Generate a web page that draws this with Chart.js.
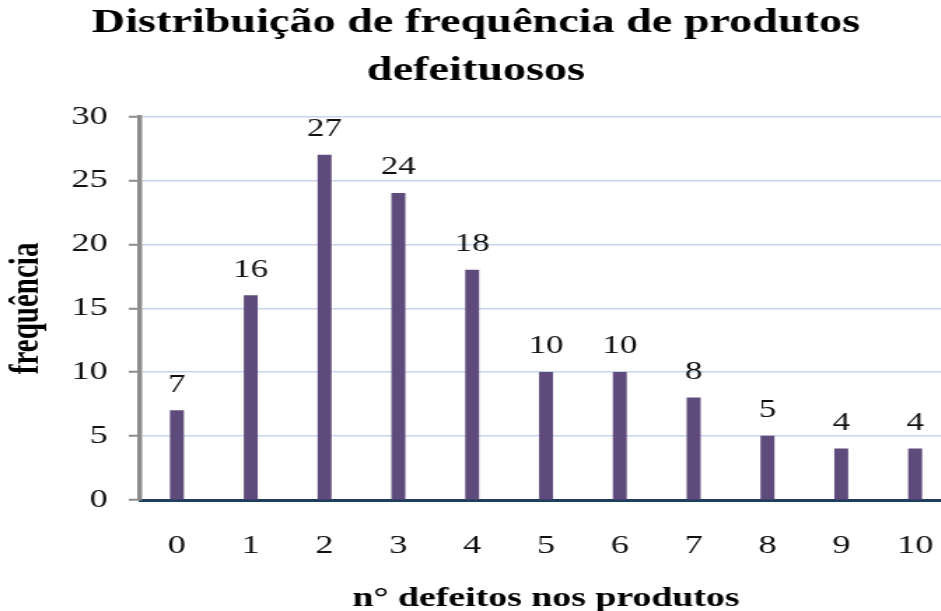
<!DOCTYPE html>
<html>
<head>
<meta charset="utf-8">
<script src="https://cdn.jsdelivr.net/npm/chart.js@4"></script>
<style>
  html, body { margin: 0; padding: 0; background: #fff; overflow: hidden; }
  #wrap { position: absolute; left: 0; top: 0; width: 680px; height: 611px;
          transform: scaleX(1.4); transform-origin: 0 0; }
</style>
</head>
<body>
<div id="wrap"><canvas id="myChart"></canvas></div>
<script>
// numero de defeitos e frequencia
const defeitos = ['0', '1', '2', '3', '4', '5', '6', '7', '8', '9', '10'];
const frequencia = [7, 16, 27, 24, 18, 10, 10, 8, 5, 4, 4];
const tituloLinhas = ['Distribuição de frequência de produtos', 'defeituosos'];
const tituloX = 'n° defeitos nos produtos';
const tituloY = 'frequência';

// numbers above each bar
const valueLabels = {
    id: 'valueLabels',
    afterDatasetsDraw(chart) {
        const ctx = chart.ctx;
        const meta = chart.getDatasetMeta(0);
        ctx.save();
        ctx.font = '25px "Liberation Serif"';
        ctx.fillStyle = '#111';
        ctx.textAlign = 'center';
        ctx.textBaseline = 'alphabetic';
        meta.data.forEach(function (bar, i) {
            ctx.fillText(String(frequencia[i]), bar.x, bar.y - 19);
        });
        ctx.restore();
    }
};

const ctx = document.querySelector('#myChart').getContext('2d');
new Chart(ctx, {
    type: 'bar',
    data: {
        labels: defeitos,
        datasets: [{
            data: frequencia,
            backgroundColor: '#5f4b7b',
            borderWidth: 0,
            barThickness: 9.3
        }]
    },
    options: {
        responsive: true,
        maintainAspectRatio: false,
        animation: false,
        layout: { padding: 0 },
        plugins: {
            legend: { display: false },
            tooltip: { enabled: false },
            title: {
                display: true,
                text: tituloLinhas,
                color: '#000',
                font: { family: 'Liberation Serif', size: 33, weight: 'bold', lineHeight: 1.45 },
                padding: { top: 0, bottom: 21 }
            }
        },
        scales: {
            x: {
                // invisible tick marks push the labels down without adding side padding
                grid: { display: true, drawOnChartArea: false, drawTicks: true,
                        tickLength: 31, tickColor: 'rgba(0,0,0,0)' },
                border: { color: '#1f3d5c', width: 3 },
                ticks: {
                    color: '#111',
                    padding: 0,
                    font: { family: 'Liberation Serif', size: 26 }
                },
                title: {
                    display: true,
                    text: tituloX,
                    color: '#000',
                    font: { family: 'Liberation Serif', size: 27, weight: 'bold', lineHeight: 0.9 },
                    padding: 0
                },
                afterFit: function (scale) { scale.height = 111; }
            },
            y: {
                min: 0,
                max: 30,
                grid: {
                    color: '#c8d5ec',
                    lineWidth: 1.5,
                    tickColor: '#8c8c8c',
                    tickLength: 8,
                    tickWidth: 2
                },
                border: { color: '#8c8c8c', width: 3.5 },
                ticks: {
                    stepSize: 5,
                    color: '#111',
                    padding: 15,
                    font: { family: 'Liberation Serif', size: 26 }
                },
                title: {
                    display: true,
                    text: tituloY,
                    color: '#000',
                    font: { family: 'Liberation Serif', size: 29, weight: 'bold' },
                    padding: 2
                },
                afterFit: function (scale) { scale.width = 100; }
            }
        }
    },
    plugins: [valueLabels]
});
</script>
</body>
</html>
